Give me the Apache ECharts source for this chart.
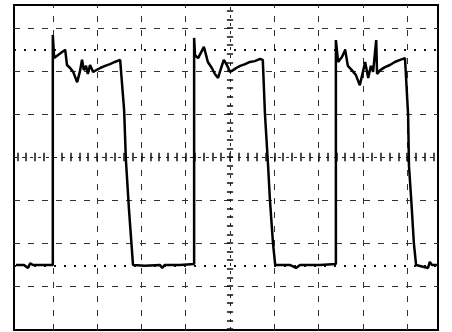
<!DOCTYPE html>
<html>
<head>
<meta charset="utf-8">
<script src="https://cdn.jsdelivr.net/npm/echarts@6/dist/echarts.min.js"></script>
<style>
html,body{margin:0;padding:0;background:#fff;}
#chart{width:452px;height:332px;}
</style>
</head>
<body>
<div id="chart"></div>
<script>
// Oscilloscope trace, units = screen divisions (centre of screen = 0,0)
var traceX = [-4.83,-4.65,-4.56,-4.51,-4.45,-4.00,-4.00,-3.97,-3.88,-3.79,-3.72,-3.68,-3.61,-3.54,-3.45,-3.39,-3.34,-3.30,-3.25,-3.21,-3.16,-3.09,-3.05,-2.93,-2.82,-2.71,-2.60,-2.48,-2.44,
  -2.39,-2.35,-2.28,-2.19,-1.92,-1.58,-1.53,-1.47,-1.13,-0.81,
  -0.81,-0.79,-0.72,-0.65,-0.59,-0.54,-0.50,-0.41,-0.34,-0.27,-0.20,-0.14,-0.07,0.00,0.07,0.14,0.23,0.34,0.45,0.56,0.68,0.74,
  0.79,0.86,0.90,0.97,1.02,1.35,1.49,1.58,2.03,2.39,
  2.39,2.44,2.53,2.60,2.66,2.75,2.84,2.93,3.00,3.05,3.12,3.18,3.23,3.30,3.32,3.39,3.50,3.61,3.72,3.84,3.95,
  4.02,4.04,4.09,4.15,4.20,4.47,4.51,4.56,4.67];
var traceY = [-2.51,-2.51,-2.58,-2.47,-2.51,-2.51,2.84,2.30,2.37,2.44,2.49,2.14,2.07,1.98,1.74,1.98,2.26,2.02,2.12,1.93,2.14,1.98,2.02,2.07,2.12,2.16,2.21,2.26,2.30,
  1.09,-0.07,-1.23,-2.51,-2.53,-2.51,-2.58,-2.51,-2.51,-2.49,
  2.77,2.37,2.30,2.44,2.56,2.37,2.21,2.07,1.93,1.84,2.07,2.26,2.14,1.98,2.02,2.07,2.12,2.16,2.21,2.23,2.28,2.26,
  0.98,-0.21,-0.98,-2.00,-2.51,-2.51,-2.58,-2.51,-2.51,-2.49,
  2.72,2.21,2.33,2.49,2.12,2.02,1.91,1.67,1.98,2.21,1.84,2.12,1.98,2.72,1.93,2.02,2.09,2.14,2.21,2.26,2.30,
  0.98,-0.21,-0.98,-2.00,-2.51,-2.58,-2.44,-2.51,-2.51];

var xMin = -4.876, xMax = 4.695, yMin = -4.023, yMax = 3.535;
var gridX = [-4,-3,-2,-1,1,2,3,4];
var gridY = [-3,-2,-1,1,2,3];
var cursorY = [2.49,-2.53];
var minorStep = 0.2;

var traceData = traceX.map(function(x,i){return [x, traceY[i]];});

var gridStyle = {color:'#333', width:1, type:[6,8]};
var centerStyle = {color:'#222', width:1, type:[3,5]};
var cursorStyle = {color:'#111', width:2, type:[2,8]};
var tickStyle = {color:'#111', width:1.5, type:'solid'};

var ml = [];
gridX.forEach(function(v){ ml.push({xAxis:v, lineStyle:gridStyle}); });
gridY.forEach(function(v){ ml.push({yAxis:v, lineStyle:gridStyle}); });
ml.push({xAxis:0, lineStyle:centerStyle});
ml.push({yAxis:0, lineStyle:centerStyle});
cursorY.forEach(function(v){ ml.push({yAxis:v, lineStyle:cursorStyle}); });
// minor ticks along centre axes
for (var t = Math.ceil(xMin/minorStep)*minorStep; t <= xMax; t += minorStep) {
  ml.push([{coord:[t,-0.1], lineStyle:tickStyle},{coord:[t,0.1]}]);
}
for (var s = Math.ceil(yMin/minorStep)*minorStep; s <= yMax; s += minorStep) {
  ml.push([{coord:[-0.07,s], lineStyle:tickStyle},{coord:[0.07,s]}]);
}

var chart = echarts.init(document.getElementById('chart'));
chart.setOption({
  animation:false,
  backgroundColor:'#fff',
  grid:{left:14,right:14,top:5,bottom:2,show:true,borderColor:'#000',borderWidth:2,backgroundColor:'#fff'},
  xAxis:{type:'value',min:xMin,max:xMax,axisLine:{show:false},axisTick:{show:false},axisLabel:{show:false},splitLine:{show:false}},
  yAxis:{type:'value',min:yMin,max:yMax,axisLine:{show:false},axisTick:{show:false},axisLabel:{show:false},splitLine:{show:false}},
  series:[{
    type:'line',
    data:traceData,
    showSymbol:false,
    symbol:'none',
    lineStyle:{color:'#000',width:2.5},
    z:5,
    markLine:{silent:true,symbol:'none',label:{show:false},animation:false,data:ml}
  }]
});
</script>
</body>
</html>
